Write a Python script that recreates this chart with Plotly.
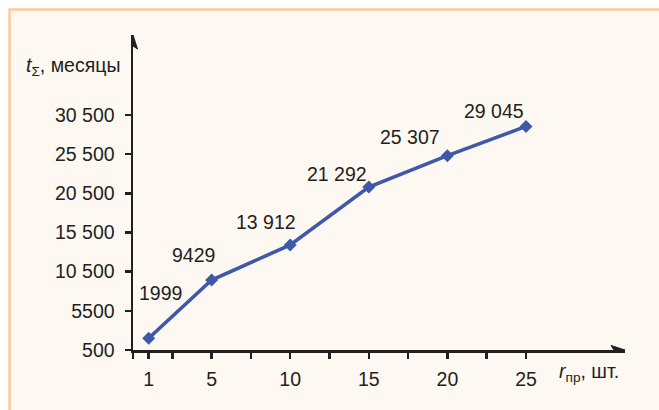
import plotly.graph_objects as go

# ---- data ----
r_pr = [1, 5, 10, 15, 20, 25]
t_sigma = [1999, 9429, 13912, 21292, 25307, 29045]
value_labels = ["1999", "9429", "13 912", "21 292", "25 307", "29 045"]

x_tickvals = [1, 5, 10, 15, 20, 25]
x_ticktext = ["1", "5", "10", "15", "20", "25"]
x_minor_tickvals = [0, 2.5, 7.5, 12.5, 17.5, 22.5]
y_tickvals = [500, 5500, 10500, 15500, 20500, 25500, 30500]
y_ticktext = ["500", "5500", "10 500", "15 500", "20 500", "25 500", "30 500"]

# label offsets (px) relative to each point
label_dx = [12, -18, -24, -32, -37, -32]
label_dy = [-45, -25, -23, -13, -19, -15]

# ---- style ----
OFF = 0
W, H = 659 - OFF, 410 - OFF
ML, MR, MT, MB = 133 - OFF, 34, 35 - OFF, 60
PW, PH = W - ML - MR, H - MT - MB
X_PER_UNIT = 15.72
Y_PER_5000 = 39.17
XMAX = PW / X_PER_UNIT
YMIN = 500
YMAX = YMIN + PH / Y_PER_5000 * 5000

INK = "#231f20"
BLUE = "#3f59a9"
CREAM = "#fdf8f1"
ORANGE = "#fcca97"
FONT = "Liberation Sans, Arial, sans-serif"
FS = 19.5


def px(xp):
    """page pixel x -> paper coordinate"""
    return (xp - OFF - ML) / PW


def py(yp):
    """page pixel y -> paper coordinate"""
    return (H - MB - (yp - OFF)) / PH


fig = go.Figure()
fig.add_trace(go.Scatter(
    x=r_pr, y=t_sigma, mode="lines+markers",
    line=dict(color=BLUE, width=3.6),
    marker=dict(symbol="diamond", size=10, color=BLUE),
    hoverinfo="skip", showlegend=False, cliponaxis=False,
))

annotations = []
for xv, yv, lab, dx, dy in zip(r_pr, t_sigma, value_labels, label_dx, label_dy):
    annotations.append(dict(
        x=xv, y=yv, xref="x", yref="y", text=lab, showarrow=False,
        xshift=dx, yshift=-dy, xanchor="center", yanchor="middle",
        font=dict(family=FONT, size=FS, color=INK),
    ))

annotations.append(dict(
    x=px(122), y=py(66), xref="paper", yref="paper",
    text="<i>t</i><sub>Σ</sub>, месяцы", showarrow=False,
    xanchor="right", yanchor="middle",
    font=dict(family=FONT, size=FS, color=INK),
))
annotations.append(dict(
    x=px(557), y=py(372), xref="paper", yref="paper",
    text="<i>r</i><sub>пр</sub>, шт.", showarrow=False,
    xanchor="left", yanchor="middle",
    font=dict(family=FONT, size=FS, color=INK),
))

shapes = [
    # background frame
    dict(type="rect", xref="paper", yref="paper", layer="below",
         x0=px(9.5), x1=px(720), y0=py(460), y1=py(9.5),
         fillcolor=CREAM, line=dict(color=ORANGE, width=2.5)),
    # y axis arrow head
    dict(type="path", xref="x", yref="y", xsizemode="pixel", ysizemode="pixel",
         xanchor=0, yanchor=YMAX, path="M-4.5,-14 L0,0 L4.5,-14 L0,-11 Z",
         fillcolor=INK, line=dict(color=INK, width=1)),
    # x axis arrow head
    dict(type="path", xref="x", yref="y", xsizemode="pixel", ysizemode="pixel",
         xanchor=XMAX, yanchor=YMIN, path="M-14,4.5 L0,0 L-14,-4.5 L-11,0 Z",
         fillcolor=INK, line=dict(color=INK, width=1)),
]

axis_common = dict(
    showline=True, linecolor=INK, linewidth=2.5, showgrid=False, zeroline=False,
    ticks="outside", ticklen=6, tickwidth=2.5, tickcolor=INK,
    tickfont=dict(family=FONT, size=FS, color=INK), tickmode="array",
)

fig.update_layout(
    width=W, height=H,
    margin=dict(l=ML, r=MR, t=MT, b=MB, pad=0),
    paper_bgcolor="white", plot_bgcolor="rgba(0,0,0,0)",
    xaxis=dict(range=[0, XMAX], tickvals=x_tickvals, ticktext=x_ticktext,
               ticklabelstandoff=4,
               minor=dict(tickvals=x_minor_tickvals, ticks="outside", ticklen=6,
                          tickwidth=2.5, tickcolor=INK, showgrid=False),
               **axis_common),
    yaxis=dict(range=[YMIN, YMAX], tickvals=y_tickvals, ticktext=y_ticktext,
               ticklabelstandoff=6, **axis_common),
    annotations=annotations, shapes=shapes, showlegend=False,
)

fig.write_html(
    "out.html",
    config={"displayModeBar": False, "staticPlot": True},
    post_script="document.body.style.margin='0';",
)
